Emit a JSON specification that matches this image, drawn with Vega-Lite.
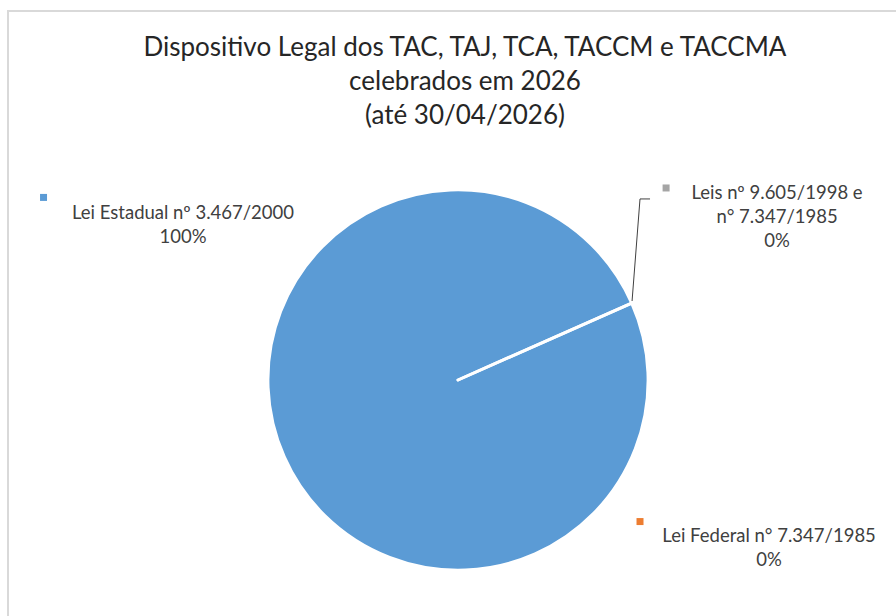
{
  "$schema": "https://vega.github.io/schema/vega-lite/v6.json",
  "autosize": "none",
  "padding": {"left": 8, "top": 11, "right": 0, "bottom": 0},
  "width": 895,
  "height": 612,
  "background": "white",
  "view": {"stroke": "#d9d9d9", "strokeWidth": 2},
  "title": {
    "text": ["Dispositivo Legal dos TAC, TAJ, TCA, TACCM e TACCMA", "celebrados em 2026", "(até 30/04/2026)"],
    "anchor": "middle",
    "frame": "group",
    "offset": -118,
    "dx": 9.5,
    "font": "Lato",
    "fontSize": 26,
    "fontWeight": "normal",
    "color": "#262626",
    "lineHeight": 34
  },
  "data": {
    "values": [
      {"dispositivo": "Lei Estadual nº 3.467/2000", "percentual": 100},
      {"dispositivo": "Lei Federal n° 7.347/1985", "percentual": 0},
      {"dispositivo": "Leis nº 9.605/1998 e n° 7.347/1985", "percentual": 0}
    ]
  },
  "transform": [
    {"calculate": "replace(datum.dispositivo, '1998 e ', '1998 e\\n') + '\\n' + datum.percentual + '%'", "as": "rotulo"}
  ],
  "layer": [
    {
      "mark": {"type": "arc", "radius": 190, "stroke": "white", "strokeWidth": 3, "strokeJoin": "round"},
      "encoding": {
        "x": {"datum": 0, "type": "quantitative", "scale": {"domain": [-2.381, 2.3545], "nice": false, "zero": false}, "axis": null},
        "y": {"datum": 0, "type": "quantitative", "scale": {"domain": [-1.2857, 1.9524], "nice": false, "zero": false}, "axis": null},
        "theta": {"field": "percentual", "type": "quantitative", "stack": true, "scale": {"range": [1.1537, 7.4369]}},
        "color": {"field": "dispositivo", "type": "nominal", "scale": {"domain": ["Lei Estadual nº 3.467/2000", "Lei Federal n° 7.347/1985", "Leis nº 9.605/1998 e n° 7.347/1985"], "range": ["#5b9bd5", "#ed7d31", "#a5a5a5"]}, "legend": null}
      }
    },
    {
      "transform": [{"filter": "datum.percentual == 0 && indexof(datum.dispositivo, 'Leis') == 0"}],
      "mark": {"type": "rule", "color": "#404040", "strokeWidth": 1},
      "encoding": {
        "x": {"datum": 1.016, "type": "quantitative", "scale": {"domain": [-2.381, 2.3545], "nice": false, "zero": false}, "axis": null},
        "x2": {"datum": 0.963},
        "y": {"datum": 0.958, "type": "quantitative", "scale": {"domain": [-1.2857, 1.9524], "nice": false, "zero": false}, "axis": null},
        "y2": {"datum": 0.958}
      }
    },
    {
      "transform": [{"filter": "datum.percentual == 0 && indexof(datum.dispositivo, 'Leis') == 0"}],
      "mark": {"type": "rule", "color": "#404040", "strokeWidth": 1},
      "encoding": {
        "x": {"datum": 0.963, "type": "quantitative", "scale": {"domain": [-2.381, 2.3545], "nice": false, "zero": false}, "axis": null},
        "x2": {"datum": 0.921},
        "y": {"datum": 0.958, "type": "quantitative", "scale": {"domain": [-1.2857, 1.9524], "nice": false, "zero": false}, "axis": null},
        "y2": {"datum": 0.418}
      }
    },
    {
      "transform": [{"filter": "datum.dispositivo == 'Lei Estadual nº 3.467/2000'"}],
      "layer": [
        {
          "mark": {"type": "point", "shape": "square", "filled": true, "size": 49, "opacity": 1},
          "encoding": {
            "x": {"datum": -2.193, "type": "quantitative", "scale": {"domain": [-2.381, 2.3545], "nice": false, "zero": false}, "axis": null},
            "y": {"datum": 0.966, "type": "quantitative", "scale": {"domain": [-1.2857, 1.9524], "nice": false, "zero": false}, "axis": null},
            "color": {"field": "dispositivo", "type": "nominal", "legend": null}
          }
        },
        {
          "mark": {"type": "text", "align": "center", "baseline": "alphabetic", "lineBreak": "\n", "lineHeight": 24, "font": "Lato", "fontSize": 18.5, "color": "#404040"},
          "encoding": {
            "x": {"datum": -1.455, "type": "quantitative", "scale": {"domain": [-2.381, 2.3545], "nice": false, "zero": false}, "axis": null},
            "y": {"datum": 0.852, "type": "quantitative", "scale": {"domain": [-1.2857, 1.9524], "nice": false, "zero": false}, "axis": null},
            "text": {"field": "rotulo"}
          }
        }
      ]
    },
    {
      "transform": [{"filter": "datum.dispositivo == 'Leis nº 9.605/1998 e n° 7.347/1985'"}],
      "layer": [
        {
          "mark": {"type": "point", "shape": "square", "filled": true, "size": 49, "opacity": 1},
          "encoding": {
            "x": {"datum": 1.101, "type": "quantitative", "scale": {"domain": [-2.381, 2.3545], "nice": false, "zero": false}, "axis": null},
            "y": {"datum": 1.016, "type": "quantitative", "scale": {"domain": [-1.2857, 1.9524], "nice": false, "zero": false}, "axis": null},
            "color": {"field": "dispositivo", "type": "nominal", "legend": null}
          }
        },
        {
          "mark": {"type": "text", "align": "center", "baseline": "alphabetic", "lineBreak": "\n", "lineHeight": 24, "font": "Lato", "fontSize": 18.5, "color": "#404040"},
          "encoding": {
            "x": {"datum": 1.688, "type": "quantitative", "scale": {"domain": [-2.381, 2.3545], "nice": false, "zero": false}, "axis": null},
            "y": {"datum": 0.958, "type": "quantitative", "scale": {"domain": [-1.2857, 1.9524], "nice": false, "zero": false}, "axis": null},
            "text": {"field": "rotulo"}
          }
        }
      ]
    },
    {
      "transform": [{"filter": "datum.dispositivo == 'Lei Federal n° 7.347/1985'"}],
      "layer": [
        {
          "mark": {"type": "point", "shape": "square", "filled": true, "size": 49, "opacity": 1},
          "encoding": {
            "x": {"datum": 0.963, "type": "quantitative", "scale": {"domain": [-2.381, 2.3545], "nice": false, "zero": false}, "axis": null},
            "y": {"datum": -0.749, "type": "quantitative", "scale": {"domain": [-1.2857, 1.9524], "nice": false, "zero": false}, "axis": null},
            "color": {"field": "dispositivo", "type": "nominal", "legend": null}
          }
        },
        {
          "mark": {"type": "text", "align": "center", "baseline": "alphabetic", "lineBreak": "\n", "lineHeight": 24, "font": "Lato", "fontSize": 18.5, "color": "#404040"},
          "encoding": {
            "x": {"datum": 1.646, "type": "quantitative", "scale": {"domain": [-2.381, 2.3545], "nice": false, "zero": false}, "axis": null},
            "y": {"datum": -0.857, "type": "quantitative", "scale": {"domain": [-1.2857, 1.9524], "nice": false, "zero": false}, "axis": null},
            "text": {"field": "rotulo"}
          }
        }
      ]
    }
  ]
}
